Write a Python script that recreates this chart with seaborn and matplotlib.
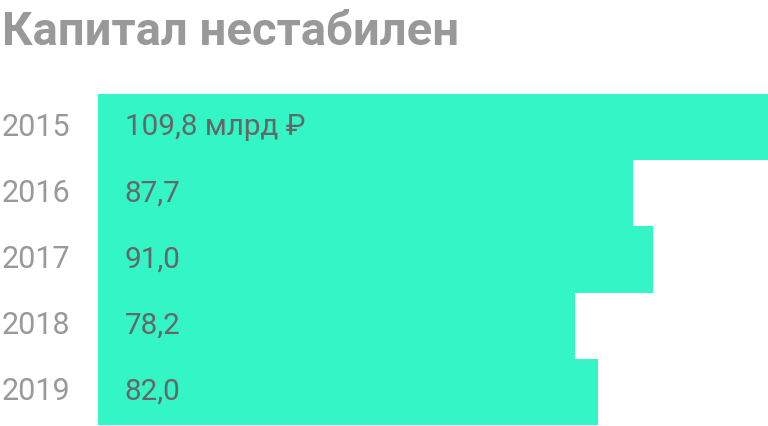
import matplotlib
matplotlib.use('Agg')
import matplotlib.pyplot as plt
import seaborn as sns
import pandas as pd

years = ['2015', '2016', '2017', '2018', '2019']
capital = [109.8, 87.7, 91.0, 78.2, 82.0]
labels = ['109,8 млрд ₽', '87,7', '91,0', '78,2', '82,0']
title = 'Капитал нестабилен'

sns.set_style('white')
plt.rcParams['font.family'] = ['Roboto', 'DejaVu Sans']

df = pd.DataFrame({'year': years, 'capital': capital})

fig = plt.figure(figsize=(7.68, 4.26), dpi=100)
ax = fig.add_axes([98 / 768, 1 / 426, 670 / 768, 331 / 426])
sns.barplot(data=df, x='capital', y='year', orient='h', width=1.0,
            color='#33F5C6', saturation=1, linewidth=0, ax=ax)
ax.set_xlim(0, 109.8)
ax.set_ylim(4.5, -0.5)
ax.axis('off')

for i, (yr, lab) in enumerate(zip(years, labels)):
    ax.text(-0.1433, i, yr, transform=ax.get_yaxis_transform(),
            ha='left', va='center', fontsize=22, color='#999999')
    ax.text(4.4, i, lab, ha='left', va='center', fontsize=21.3, color='#666666')

fig.text(2 / 768, 1 - 32 / 426, title, ha='left', va='center',
         fontsize=34, fontweight='bold', color='#999999')

fig.savefig('out.png', dpi=100)
plt.close()
